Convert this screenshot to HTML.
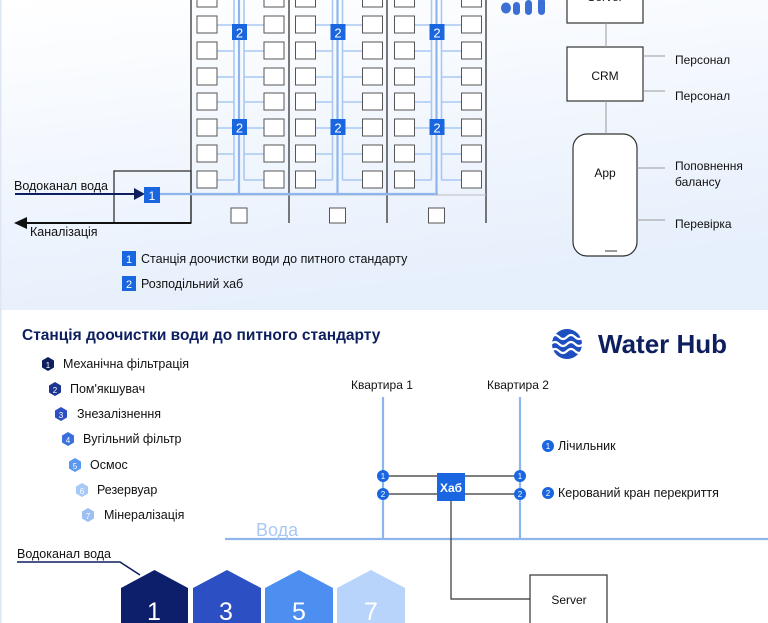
<!DOCTYPE html>
<html><head><meta charset="utf-8"><style>
html,body{margin:0;padding:0;width:768px;height:623px;overflow:hidden;background:#fff}
svg{display:block;font-family:"Liberation Sans","DejaVu Sans",sans-serif}
</style></head><body>
<svg width="768" height="623" viewBox="0 0 768 623" xmlns="http://www.w3.org/2000/svg">
<defs>
<linearGradient id="bg" x1="0" y1="0" x2="0.3" y2="1">
<stop offset="0" stop-color="#ffffff"/><stop offset="1" stop-color="#e6effc"/>
</linearGradient>
</defs>
<rect x="0" y="0" width="768" height="310" fill="url(#bg)"/>
<rect x="0" y="310" width="768" height="313" fill="#fff"/>
<line x1="0" y1="0" x2="0" y2="623" stroke="#dde6f2" stroke-width="3"/>

<!-- building -->
<g stroke="#333" stroke-width="1.3" fill="none">
<line x1="191" y1="0" x2="191" y2="223"/>
<line x1="289" y1="0" x2="289" y2="223"/>
<line x1="387" y1="0" x2="387" y2="223"/>
<line x1="486" y1="0" x2="486" y2="223"/>
<rect x="114" y="171" width="77" height="52"/>
</g>
<line x1="191" y1="195" x2="486" y2="195" stroke="#bbb" stroke-width="1"/>

<g id="sec">
<g stroke="#a9c8f2" stroke-width="1.6" fill="none">
<line x1="217" y1="-1" x2="234" y2="-1"/><line x1="217" y1="25" x2="234" y2="25"/>
<line x1="217" y1="51" x2="234" y2="51"/><line x1="217" y1="77" x2="234" y2="77"/>
<line x1="217" y1="102" x2="234" y2="102"/><line x1="217" y1="128" x2="234" y2="128"/>
<line x1="217" y1="154" x2="234" y2="154"/><line x1="217" y1="180" x2="234" y2="180"/>
<line x1="244" y1="-1" x2="264" y2="-1"/><line x1="244" y1="25" x2="264" y2="25"/>
<line x1="244" y1="51" x2="264" y2="51"/><line x1="244" y1="77" x2="264" y2="77"/>
<line x1="244" y1="102" x2="264" y2="102"/><line x1="244" y1="128" x2="264" y2="128"/>
<line x1="244" y1="154" x2="264" y2="154"/><line x1="244" y1="180" x2="264" y2="180"/>
<line x1="234" y1="0" x2="234" y2="180"/><line x1="244" y1="0" x2="244" y2="180"/>
</g>
<line x1="239" y1="0" x2="239" y2="195" stroke="#8fb6ec" stroke-width="2.2"/>
<g fill="#fff" stroke="#555" stroke-width="1">
<rect x="197" y="-9" width="20" height="16"/><rect x="264" y="-9" width="20" height="16"/>
<rect x="197" y="16" width="20" height="17"/><rect x="264" y="16" width="20" height="17"/>
<rect x="197" y="42" width="20" height="17"/><rect x="264" y="42" width="20" height="17"/>
<rect x="197" y="68" width="20" height="17"/><rect x="264" y="68" width="20" height="17"/>
<rect x="197" y="93" width="20" height="17"/><rect x="264" y="93" width="20" height="17"/>
<rect x="197" y="119" width="20" height="17"/><rect x="264" y="119" width="20" height="17"/>
<rect x="197" y="145" width="20" height="17"/><rect x="264" y="145" width="20" height="17"/>
<rect x="197" y="171" width="20" height="17"/><rect x="264" y="171" width="20" height="17"/>
<rect x="231" y="208" width="16" height="15"/>
</g>
<rect x="232" y="24" width="15" height="16" fill="#1a66e0"/>
<text x="239.5" y="37.5" font-size="13" fill="#fff" text-anchor="middle">2</text>
<rect x="232" y="119" width="15" height="16" fill="#1a66e0"/>
<text x="239.5" y="132.5" font-size="13" fill="#fff" text-anchor="middle">2</text>
</g>
<use href="#sec" x="98.5"/>
<use href="#sec" x="197.5"/>

<line x1="152" y1="194" x2="438" y2="194" stroke="#8fb6ec" stroke-width="2.2"/>
<line x1="15" y1="194" x2="136" y2="194" stroke="#0d1f5e" stroke-width="2"/>
<polygon points="145,194 134,188 134,200" fill="#0d1f5e"/>
<rect x="144" y="187" width="16" height="16" fill="#1a66e0"/>
<text x="152" y="200" font-size="12" fill="#fff" text-anchor="middle">1</text>
<line x1="191" y1="223" x2="24" y2="223" stroke="#111" stroke-width="2"/>
<polygon points="14,223 27,217 27,229" fill="#111"/>
<text x="14" y="190" font-size="12.5" fill="#111">Водоканал вода</text>
<text x="30" y="236" font-size="12.5" fill="#111">Каналізація</text>

<rect x="122" y="251" width="14" height="15" fill="#1a66e0"/>
<text x="129" y="263" font-size="11" fill="#fff" text-anchor="middle">1</text>
<text x="141" y="263" font-size="12.5" fill="#111">Станція доочистки води до питного стандарту</text>
<rect x="122" y="276" width="14" height="15" fill="#1a66e0"/>
<text x="129" y="288" font-size="11" fill="#fff" text-anchor="middle">2</text>
<text x="141" y="288" font-size="12.5" fill="#111">Розподільний хаб</text>

<!-- wifi -->
<g fill="#3b6fd6">
<ellipse cx="506" cy="8" rx="5" ry="5.5"/>
<rect x="513" y="2" width="7" height="13" rx="3.5"/>
<rect x="525" y="0" width="7" height="15" rx="3.5"/>
<rect x="538" y="-2" width="7" height="17" rx="3.5"/>
</g>

<!-- right column -->
<g stroke="#333" stroke-width="1.2" fill="#fff">
<rect x="567" y="-5" width="76" height="28"/>
<rect x="567" y="47" width="76" height="54"/>
<rect x="573" y="134" width="64" height="122" rx="14"/>
</g>
<line x1="605" y1="251" x2="617" y2="251" stroke="#333"/>
<g stroke="#999" stroke-width="1">
<line x1="606" y1="23" x2="606" y2="47"/><line x1="606" y1="101" x2="606" y2="134"/>
<line x1="643" y1="56" x2="665" y2="56"/><line x1="643" y1="91" x2="665" y2="91"/>
<line x1="637" y1="168" x2="665" y2="168"/><line x1="637" y1="220" x2="665" y2="220"/>
</g>
<text x="605" y="1" font-size="12" fill="#111" text-anchor="middle">Server</text>
<text x="605" y="80" font-size="12" fill="#111" text-anchor="middle">CRM</text>
<text x="605" y="177" font-size="12" fill="#111" text-anchor="middle">App</text>
<g font-size="12" fill="#111">
<text x="675" y="64">Персонал</text>
<text x="675" y="100">Персонал</text>
<text x="675" y="170">Поповнення</text>
<text x="675" y="186">балансу</text>
<text x="675" y="228">Перевірка</text>
</g>

<!-- bottom -->
<text x="22" y="340" font-size="15.5" font-weight="bold" fill="#0d1f5e">Станція доочистки води до питного стандарту</text>
<g font-size="12.5" fill="#111">
<g><polygon points="48,357 54,360.5 54,367.5 48,371 42,367.5 42,360.5" fill="#0d1f5e"/><text x="48" y="368" font-size="8" fill="#fff" text-anchor="middle">1</text><text x="63" y="368">Механічна фільтрація</text></g>
<g><polygon points="55,382 61,385.5 61,392.5 55,396 49,392.5 49,385.5" fill="#1d3592"/><text x="55" y="393" font-size="8" fill="#fff" text-anchor="middle">2</text><text x="70" y="393">Пом'якшувач</text></g>
<g><polygon points="61,407 67,410.5 67,417.5 61,421 55,417.5 55,410.5" fill="#2d4fc4"/><text x="61" y="418" font-size="8" fill="#fff" text-anchor="middle">3</text><text x="77" y="418">Знезалізнення</text></g>
<g><polygon points="68,432 74,435.5 74,442.5 68,446 62,442.5 62,435.5" fill="#3a6fdc"/><text x="68" y="443" font-size="8" fill="#fff" text-anchor="middle">4</text><text x="83" y="443">Вугільний фільтр</text></g>
<g><polygon points="75,458 81,461.5 81,468.5 75,472 69,468.5 69,461.5" fill="#5a97ee"/><text x="75" y="469" font-size="8" fill="#fff" text-anchor="middle">5</text><text x="90" y="469">Осмос</text></g>
<g><polygon points="82,483 88,486.5 88,493.5 82,497 76,493.5 76,486.5" fill="#a8c9f7"/><text x="82" y="494" font-size="8" fill="#fff" text-anchor="middle">6</text><text x="97" y="494">Резервуар</text></g>
<g><polygon points="88,508 94,511.5 94,518.5 88,522 82,518.5 82,511.5" fill="#9cc0f3"/><text x="88" y="519" font-size="8" fill="#fff" text-anchor="middle">7</text><text x="104" y="519">Мінералізація</text></g>
</g>

<!-- logo -->
<circle cx="567" cy="344" r="15" fill="#1d4fc0"/>
<g stroke="#fff" stroke-width="2.2" fill="none">
<path d="M551,337 q4,-4 8,0 t8,0 t8,0 t8,0"/>
<path d="M551,344 q4,-4 8,0 t8,0 t8,0 t8,0"/>
<path d="M551,351 q4,-4 8,0 t8,0 t8,0 t8,0"/>
</g>
<text x="598" y="353" font-size="26" font-weight="bold" fill="#0d1f5e">Water Hub</text>

<!-- apartment scheme -->
<text x="351" y="389" font-size="12" fill="#111">Квартира 1</text>
<text x="487" y="389" font-size="12" fill="#111">Квартира 2</text>
<g stroke="#8fb6ec" stroke-width="2.2">
<line x1="383" y1="397" x2="383" y2="539"/>
<line x1="520" y1="397" x2="520" y2="539"/>
<line x1="225" y1="539" x2="768" y2="539"/>
</g>
<text x="256" y="536" font-size="18" fill="#a9c8f2">Вода</text>
<g stroke="#333" stroke-width="1.2" fill="none">
<line x1="383" y1="476" x2="520" y2="476"/>
<line x1="383" y1="494" x2="520" y2="494"/>
<polyline points="451,501 451,599 530,599"/>
<rect x="530" y="575" width="77" height="52" fill="#fff"/>
</g>
<text x="569" y="604" font-size="12" fill="#111" text-anchor="middle">Server</text>
<rect x="437" y="473" width="28" height="28" fill="#1a66e0"/>
<text x="451" y="492" font-size="12" font-weight="bold" fill="#fff" text-anchor="middle">Хаб</text>
<g font-size="8" fill="#fff" text-anchor="middle">
<circle cx="383" cy="476" r="6" fill="#1a66e0"/><text x="383" y="479">1</text>
<circle cx="383" cy="494" r="6" fill="#1a66e0"/><text x="383" y="497">2</text>
<circle cx="520" cy="476" r="6" fill="#1a66e0"/><text x="520" y="479">1</text>
<circle cx="520" cy="494" r="6" fill="#1a66e0"/><text x="520" y="497">2</text>
<circle cx="548" cy="446" r="6" fill="#1a66e0"/><text x="548" y="449">1</text>
<circle cx="548" cy="493" r="6" fill="#1a66e0"/><text x="548" y="496">2</text>
</g>
<text x="558" y="450" font-size="12.5" fill="#111">Лічильник</text>
<text x="558" y="497" font-size="12.5" fill="#111">Керований кран перекриття</text>

<!-- hexagons -->
<text x="17" y="558" font-size="12.5" fill="#111">Водоканал вода</text>
<polyline points="17,562 120,562 140,575" stroke="#0d1f5e" stroke-width="1.5" fill="none"/>
<polygon points="121,588 154.5,570 188,588 188,623 121,623" fill="#0d1f6b"/>
<polygon points="193,588 227,570 261,588 261,623 193,623" fill="#2d4fc4"/>
<polygon points="265,588 299,570 333,588 333,623 265,623" fill="#4c8ff0"/>
<polygon points="337,588 371,570 405,588 405,623 337,623" fill="#b8d4fb"/>
<g font-size="25" fill="#fff" text-anchor="middle">
<text x="154" y="620">1</text><text x="226" y="620">3</text><text x="299" y="620">5</text><text x="371" y="620">7</text>
</g>
</svg>
</body></html>
